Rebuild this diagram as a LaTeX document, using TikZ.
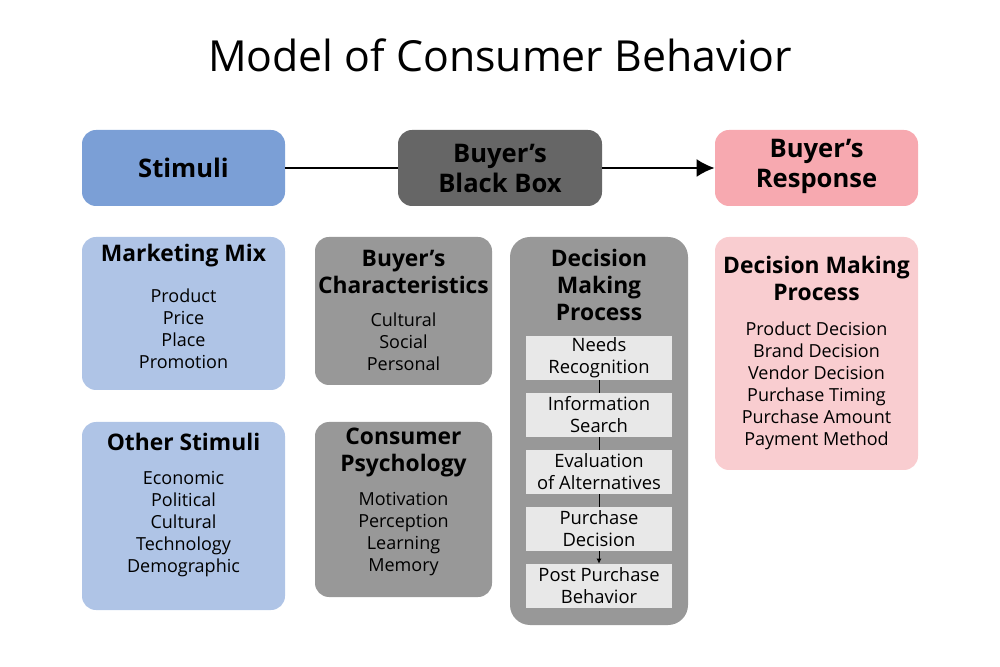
\documentclass[tikz,border=0pt]{standalone}
\usepackage{fontspec}
\setmainfont{Open Sans}
\usetikzlibrary{positioning, arrows.meta}

\definecolor{stimblue}{RGB}{123,159,214}
\definecolor{mixblue}{RGB}{175,196,230}
\definecolor{boxdark}{RGB}{102,102,102}
\definecolor{boxgray}{RGB}{152,152,152}
\definecolor{stepgray}{RGB}{232,232,232}
\definecolor{resppink}{RGB}{247,169,176}
\definecolor{mixpink}{RGB}{249,205,208}

\begin{document}
\begin{tikzpicture}[x=0.5pt, y=-0.5pt, >={Latex[length=9pt, width=9pt]},
	box/.style={rectangle, rounded corners=7pt, inner sep=0pt},
	headtext/.style={align=center, inner sep=0pt, font=\bfseries\fontsize{12.8}{15}\selectfont},
	titletext/.style={align=center, inner sep=0pt, font=\bfseries\fontsize{11.4}{13.5}\selectfont},
	listtext/.style={align=center, inner sep=0pt, font=\fontsize{9}{11}\selectfont},
	stepbox/.style={rectangle, fill=stepgray, minimum width=73pt, minimum height=22pt, inner sep=0pt,
		align=center, font=\fontsize{9.2}{11}\selectfont}]
	\useasboundingbox (0, 0) rectangle (1000, 667);

	\node[font=\fontsize{21.4}{25}\selectfont] (title) at (500, 55) {Model of Consumer Behavior};

	% top row
	\node[box, fill=stimblue, minimum width=101.5pt, minimum height=38pt] (stim) at (183.5, 168) {};
	\node[box, fill=boxdark, minimum width=102pt, minimum height=38pt] (bbox) at (500, 168) {};
	\node[box, fill=resppink, minimum width=101.5pt, minimum height=38pt] (resp) at (816.5, 168) {};
	\node[headtext] (stimt) at (183.5, 168) {Stimuli};
	\node[headtext] (bboxt) at (500, 168) {Buyer’s\\Black Box};
	\node[headtext] (respt) at (816.5, 166) {Buyer’s\\Response};
	\draw[line width=1pt] (stim) -- (bbox);
	\draw[line width=1pt, ->] (bbox) -- (resp);

	% stimuli column
	\node[box, fill=mixblue, minimum width=101.5pt, minimum height=76.5pt] (mix) at (183.5, 313.5) {};
	\node[titletext] (mixt) at (183.5, 256) {Marketing Mix};
	\node[listtext] (mixl) at (183.5, 329) {Product\\Price\\Place\\Promotion};
	\node[box, fill=mixblue, minimum width=101.5pt, minimum height=94pt] (other) at (183.5, 516) {};
	\node[titletext] (othert) at (183.5, 442) {Other Stimuli};
	\node[listtext] (otherl) at (183.5, 524.5) {Economic\\Political\\Cultural\\Technology\\Demographic};

	% black box column
	\node[box, fill=boxgray, minimum width=88.5pt, minimum height=74pt] (chars) at (403.5, 311) {};
	\node[titletext] (charst) at (403.5, 271.5) {Buyer’s\\Characteristics};
	\node[listtext] (charsl) at (403.5, 342) {Cultural\\Social\\Personal};
	\node[box, fill=boxgray, minimum width=88.5pt, minimum height=87.5pt] (psych) at (403.5, 509.5) {};
	\node[titletext] (psycht) at (403.5, 452.5) {Consumer\\Psychology};
	\node[listtext] (psychl) at (403.5, 534.5) {Motivation\\Perception\\Learning\\Memory};

	% decision steps
	\node[box, rounded corners=10pt, fill=boxgray, minimum width=89pt, minimum height=194pt] (dmp) at (599, 431) {};
	\node[titletext] (dmpt) at (599, 285) {Decision\\Making\\Process};
	\node[stepbox] (need) at (599, 358) {Needs\\Recognition};
	\node[stepbox] (info) at (599, 415) {Information\\Search};
	\node[stepbox] (eval) at (599, 472) {Evaluation\\of Alternatives};
	\node[stepbox] (buy) at (599, 529) {Purchase\\Decision};
	\node[stepbox] (post) at (599, 586) {Post Purchase\\Behavior};
	\draw[line width=0.4pt] (need) -- (info);
	\draw[line width=0.4pt] (info) -- (eval);
	\draw[line width=0.4pt] (eval) -- (buy);
	\draw[line width=0.4pt, -{Latex[length=2.5pt, width=2.5pt]}] (buy) -- (post);

	% response column
	\node[box, fill=mixpink, minimum width=101.5pt, minimum height=116.5pt] (rdec) at (816.5, 353.5) {};
	\node[titletext] (rdect) at (816.5, 278.5) {Decision Making\\Process};
	\node[listtext] (rdecl) at (816.5, 386) {Product Decision\\Brand Decision\\Vendor Decision\\Purchase Timing\\Purchase Amount\\Payment Method};
\end{tikzpicture}
\end{document}
